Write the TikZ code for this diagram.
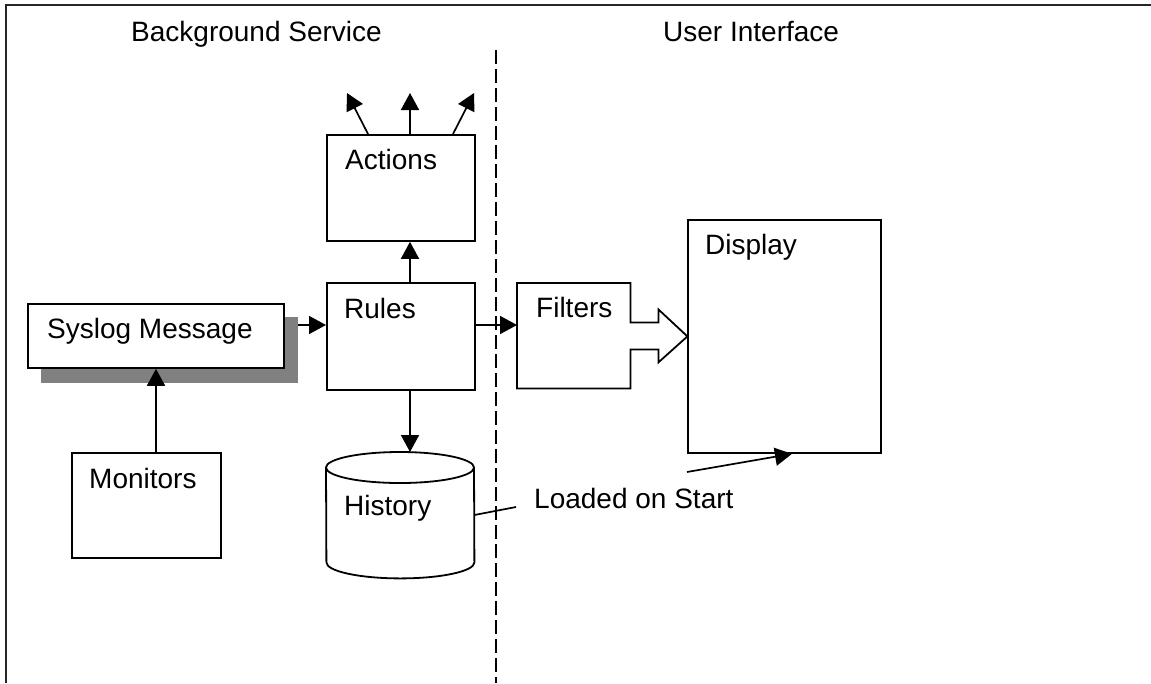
\documentclass[tikz,border=0pt]{standalone}
\usepackage{fontspec}
\setmainfont{Liberation Sans}
\usetikzlibrary{arrows.meta,calc}
\begin{document}
\begin{tikzpicture}[x=1pt,y=-1pt,
  box/.style={draw, line width=1.8pt, inner sep=0pt, anchor=north west},
  ghost/.style={inner sep=0pt, anchor=north west},
  lbl/.style={anchor=base west, inner sep=0pt, font=\fontsize{28}{33}\selectfont},
  arr/.style={-{Triangle[length=17pt,width=18pt]}, line width=1.7pt},
  plain/.style={line width=1.7pt},
  frame/.style={line width=2pt, black!85},
  divider/.style={line width=1.5pt, dash pattern=on 14pt off 5pt},
  shadowbox/.style={fill=black!50, draw=none, inner sep=0pt, anchor=north west}]

\useasboundingbox (0,0) rectangle (1151,683);

% outer frame (top and left edges)
\coordinate (frTR) at (1151,5);
\coordinate (frTL) at (6,5);
\coordinate (frBL) at (6,683);
\draw[frame] (frTR) -- (frTL) -- (frBL);

% column divider
\coordinate (divTop) at (496,50);
\coordinate (divBot) at (496,683);
\draw[divider] (divTop) -- (divBot);

% column headings
\node[lbl] (hBS) at (131,41) {Background Service};
\node[lbl] (hUI) at (663,41) {User Interface};

% Syslog message with its drop shadow
\node[shadowbox, minimum width=257pt, minimum height=66pt] (syslogShadow) at (41,317) {};
\node[box, fill=white, minimum width=256pt, minimum height=64pt] (syslog) at (27,303) {};
\node[lbl] (syslogT) at (47,338) {Syslog Message};

% Monitors
\node[box, minimum width=149pt, minimum height=105pt] (monitors) at (71,452) {};
\node[lbl] (monitorsT) at (89,488) {Monitors};

% Rules
\node[box, minimum width=148pt, minimum height=107pt] (rules) at (326,282) {};
\node[lbl] (rulesT) at (344,318) {Rules};

% Actions
\node[box, minimum width=148pt, minimum height=106pt] (actions) at (326,134) {};
\node[lbl] (actionsT) at (345,169) {Actions};

% History (cylinder)
\node[ghost, minimum width=148pt, minimum height=126pt] (history) at (326,452) {};
\draw[line width=1.8pt]
  ($(history.north west)+(0,15.5)$) arc[start angle=180, end angle=0, x radius=74pt, y radius=15.5pt]
  -- ($(history.south east)+(0,-16)$) arc[start angle=0, end angle=-180, x radius=74pt, y radius=16pt]
  -- cycle;
\draw[line width=1.8pt]
  ($(history.north west)+(0,15.5)$) arc[start angle=180, end angle=360, x radius=74pt, y radius=15.5pt];
\node[lbl] (historyT) at (344,515) {History};

% Filters with its block arrow
\node[ghost, minimum width=113pt, minimum height=105pt] (filters) at (517,283) {};
\draw[line width=1.8pt, line join=miter]
  (filters.north east) -- (filters.north west) -- (filters.south west) -- (filters.south east)
  -- ++(0,-39) -- ++(28,0) -- ++(0,13) -- ++(29,-26) -- ++(-29,-27) -- ++(0,13) -- ++(-28,0) -- cycle;
\node[lbl] (filtersT) at (536,317) {Filters};

% Display
\node[box, minimum width=193pt, minimum height=233pt] (display) at (687,219) {};
\node[lbl] (displayT) at (705,254) {Display};

% connectors
\draw[arr] ($(syslogShadow.north east)+(0,8)$) -- ($(rules.north west)+(0,43)$);
\draw[arr] (monitors.north -| 156,0) -- (syslog.south -| 156,0);
\draw[arr] ($(rules.north west)+(84,0)$) -- ($(actions.south west)+(84,0)$);
\draw[arr] ($(rules.south west)+(84,0)$) -- ($(history.north west)+(84,0)$);
\draw[arr] ($(rules.north east)+(0,43)$) -- ($(filters.north west)+(0,42)$);

% outgoing actions
\coordinate (outL) at (347,93);
\coordinate (outM) at (410,93);
\coordinate (outR) at (474,93);
\draw[arr] ($(actions.north west)+(42,0)$) -- (outL);
\draw[arr] ($(actions.north west)+(84,0)$) -- (outM);
\draw[arr] ($(actions.north west)+(127,0)$) -- (outR);

% history loaded into the display on start
\coordinate (ldA) at (516,507);
\coordinate (ldB) at (687,472);
\node[lbl] (loadedT) at (534,508) {Loaded on Start};
\draw[plain] ($(history.north east)+(0,63)$) -- (ldA);
\draw[arr] (ldB) -- ($(display.south west)+(105,0)$);

\end{tikzpicture}
\end{document}
